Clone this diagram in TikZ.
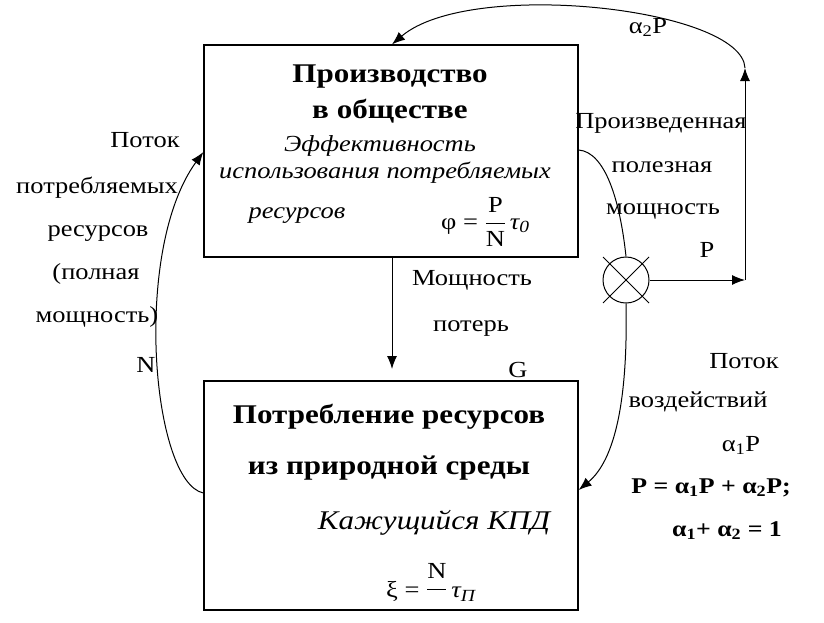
\documentclass[tikz,border=0pt]{standalone}
\usepackage{fontspec}
\usepackage{amsmath}
\setmainfont{Liberation Serif}[FakeStretch=1.15]
\usetikzlibrary{arrows.meta}
\begin{document}
\begin{tikzpicture}[x=1pt,y=-1pt,
  box/.style={draw, line width=1.3pt, minimum width=374pt, inner sep=0pt},
  lbl/.style={font=\fontsize{23}{26}\selectfont, inner sep=0pt, anchor=base},
  ttl/.style={font=\fontsize{27}{30}\selectfont\bfseries, inner sep=0pt, anchor=base},
  ttlb/.style={font=\fontsize{27}{30}\selectfont\bfseries, inner sep=0pt, anchor=base},
  itl/.style={font=\fontsize{23}{26}\selectfont\itshape, inner sep=0pt, anchor=base},
  bl/.style={font=\fontsize{22.5}{26}\selectfont\bfseries, inner sep=0pt, anchor=base},
  arr/.style={-{Latex[length=13pt,width=10pt]}, line width=1pt},
  ln/.style={line width=1pt}]
\useasboundingbox (0,0) rectangle (824,622);
% boxes
\node[box, minimum height=212pt] (top) at (391,151) {};
\node[box, minimum height=229pt] (bot) at (391,495.5) {};
% text in top box
\node[ttl] (t1) at (390,82) {Производство};
\node[ttl] (t2) at (390,118) {в обществе};
\node[itl] (t3) at (380,151) {Эффективность};
\node[itl] (t4) at (385,178) {использования потребляемых};
\node[itl] (t5) at (297,218) {ресурсов};
\node[lbl, anchor=west] (f1) at (441,222) {φ = $\dfrac{\text{P}}{\text{N}}$\,\textit{τ\raisebox{-0.15em}{\fontsize{17}{17}\selectfont 0}}};
% text in bottom box
\node[ttlb] (b1) at (389,423) {Потребление ресурсов};
\node[ttlb] (b2) at (389,474) {из природной среды};
\node[itl, font=\fontsize{27}{30}\selectfont\itshape] (b3) at (434,529) {Кажущийся КПД};
\node[lbl, anchor=west] (f2) at (386,588) {ξ = \raisebox{0.1em}{$\genfrac{}{}{0.8pt}{0}{\text{N}}{\phantom{\text{N}}}$}\,\textit{τ\raisebox{-0.15em}{\fontsize{17}{17}\selectfont П}}};
% left labels
\node[lbl] (l1) at (145,147) {Поток};
\node[lbl] (l2) at (97,193) {потребляемых};
\node[lbl] (l3) at (98,236) {ресурсов};
\node[lbl] (l4) at (96,279) {(полная};
\node[lbl] (l5) at (97,322) {мощность)};
\node[lbl] (l6) at (146,372) {N};
% middle labels
\node[lbl] (m1) at (472,285) {Мощность};
\node[lbl] (m2) at (471,331) {потерь};
\node[lbl] (m3) at (518,377) {G};
% right-upper labels
\node[lbl] (r1) at (661,128) {Произведенная};
\node[lbl] (r2) at (662,172) {полезная};
\node[lbl] (r3) at (663,214) {мощность};
\node[lbl] (r4) at (707,257) {P};
\node[lbl] (r5) at (648,33) {α\textsubscript{2}P};
% right-lower labels
\node[lbl] (q1) at (744,368) {Поток};
\node[lbl] (q2) at (698,407) {воздействий};
\node[lbl] (q3) at (741,451) {α\textsubscript{1}P};
\node[bl] (q4) at (711,493) {P = α\textsubscript{1}P + α\textsubscript{2}P;};
\node[bl] (q5) at (727,536) {α\textsubscript{1}+ α\textsubscript{2} = 1};
% multiplier circle
\node[draw, circle, line width=1pt, minimum size=46pt, inner sep=0pt] (mul) at (626,280) {};
\draw[ln] ([shift={(-23,-23)}]mul.center) -- ([shift={(23,23)}]mul.center);
\draw[ln] ([shift={(23,-23)}]mul.center) -- ([shift={(-23,23)}]mul.center);
\coordinate (c1) at (745,280);
\coordinate (c2) at (745,68);
% connectors
\draw[ln] (top.east |- 0,150) .. controls (605,152) and (620,200) .. (mul.north);
\draw[arr] (mul.south) .. controls (628,400) and (615,460) .. (bot.east |- 0,490);
\draw[arr] (mul.east) -- (c1);
\draw[arr] (c1) -- (c2);
\draw[arr] (c2) .. controls (742,8) and (470,-22) .. (top.north -| 392,0);
\draw[arr] (top.south -| 392,0) -- (392,369);
\draw[arr] (bot.west |- 0,493) .. controls (152,482) and (132,250) .. (top.west |- 0,152);
\end{tikzpicture}
\end{document}
